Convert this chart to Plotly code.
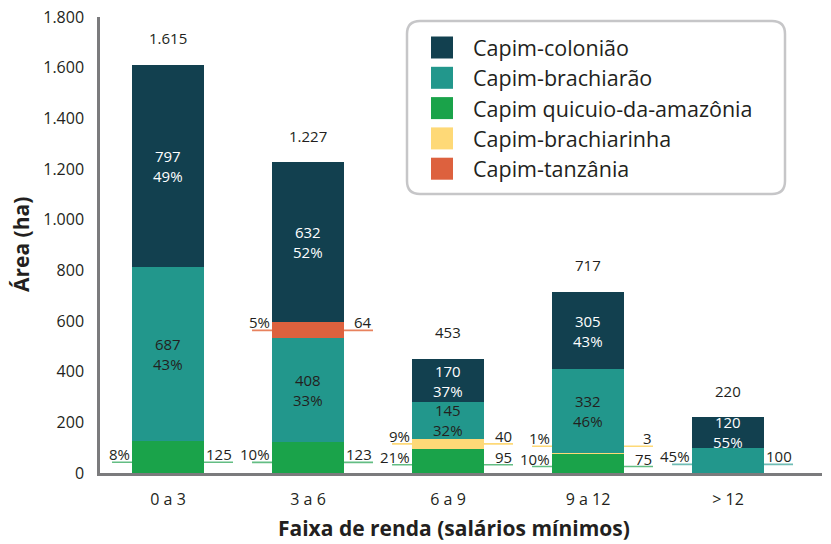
import plotly.graph_objects as go

# ---- data ----
categories = ["0 a 3", "3 a 6", "6 a 9", "9 a 12", "> 12"]
totals = [1615, 1227, 453, 717, 220]

species = ["Capim quicuio-da-amazônia", "Capim-brachiarinha", "Capim-brachiarão",
           "Capim-tanzânia", "Capim-colonião"]
quicuio = [125, 123, 95, 75, 0]
brachiarinha = [0, 0, 40, 3, 0]
brachiarao = [687, 408, 145, 332, 100]
tanzania = [0, 64, 0, 0, 0]
coloniao = [797, 632, 170, 305, 120]

quicuio_pct = [8, 10, 21, 10, None]
brachiarinha_pct = [None, None, 9, 1, None]
brachiarao_pct = [43, 33, 32, 46, 45]
tanzania_pct = [None, 5, None, None, None]
coloniao_pct = [49, 52, 37, 43, 55]

legend_order = ["Capim-colonião", "Capim-brachiarão", "Capim quicuio-da-amazônia",
                "Capim-brachiarinha", "Capim-tanzânia"]

# ---- styling ----
FONT = "Open Sans"
TXT = "#231f20"
colors = {
    "Capim-colonião": "#12404f",
    "Capim-brachiarão": "#22978c",
    "Capim quicuio-da-amazônia": "#1aa34a",
    "Capim-brachiarinha": "#fed977",
    "Capim-tanzânia": "#dd613e",
}
leader_colors = {
    "Capim-colonião": "#5a7d88",
    "Capim-brachiarão": "#6fbcb4",
    "Capim quicuio-da-amazônia": "#63bd83",
    "Capim-brachiarinha": "#fed977",
    "Capim-tanzânia": "#e8825e",
}
inside_text_color = {
    "Capim-colonião": "white",
    "Capim-brachiarão": TXT,
}

series = {
    "Capim quicuio-da-amazônia": (quicuio, quicuio_pct),
    "Capim-brachiarinha": (brachiarinha, brachiarinha_pct),
    "Capim-brachiarão": (brachiarao, brachiarao_pct),
    "Capim-tanzânia": (tanzania, tanzania_pct),
    "Capim-colonião": (coloniao, coloniao_pct),
}

W, H = 831, 544
PL, PR, PT, PB = 100, 822, 17, 473   # plot area in pixels
BAR_W = 0.514
X_RANGE = [-0.486, 4.671]
LBL = 15


def px_x(p):
    return (p - PL) / (PR - PL)


def px_y(p):
    return (PB - p) / (PB - PT)


fig = go.Figure()
for name in species:
    vals, _ = series[name]
    fig.add_trace(go.Bar(
        x=categories, y=vals, name=name, width=BAR_W,
        marker=dict(color=colors[name], line=dict(width=0)),
        hoverinfo="skip", showlegend=False,
    ))

annotations = []
shapes = []

for i, cat in enumerate(categories):
    base = 0.0
    prev_leader = None
    first = True
    for name in species:
        vals, pcts = series[name]
        v = vals[i]
        if not v:
            continue
        mid = base + v / 2
        use_leader = first or v < 70
        if use_leader:
            if first:
                ly = base + 0.34 * v
            else:
                ly = max(mid, prev_leader + 80)
            prev_leader = ly
            shapes.append(dict(
                type="line", xref="x", yref="y", layer="below",
                x0=i - 0.4, x1=i + 0.464, y0=ly, y1=ly,
                line=dict(color=leader_colors[name], width=1.6),
            ))
            annotations.append(dict(
                x=i - BAR_W / 2, y=ly, xref="x", yref="y",
                text=f"{pcts[i]}%", showarrow=False, borderpad=0,
                xanchor="right", yanchor="bottom", xshift=-1, yshift=-3,
                font=dict(family=FONT, size=LBL, color=TXT),
            ))
            annotations.append(dict(
                x=i + 0.464, y=ly, xref="x", yref="y",
                text=f"{v}", showarrow=False, borderpad=0,
                xanchor="right", yanchor="bottom", xshift=0, yshift=-3,
                font=dict(family=FONT, size=LBL, color=TXT),
            ))
        else:
            tc = inside_text_color.get(name, TXT)
            annotations.append(dict(
                x=i, y=mid, xref="x", yref="y",
                text=f"{v}<br>{pcts[i]}%", showarrow=False, borderpad=0,
                yanchor="middle",
                font=dict(family=FONT, size=LBL, color=tc),
            ))
        base += v
        first = False
    # total above the stack
    annotations.append(dict(
        x=i, y=totals[i], xref="x", yref="y",
        text=f"{totals[i]:,}".replace(",", "."), showarrow=False,
        yanchor="middle", yshift=26,
        font=dict(family=FONT, size=LBL, color=TXT),
    ))

# ---- axis titles ----
annotations.append(dict(
    x=px_x(454), y=px_y(543), xref="paper", yref="paper",
    text="<b>Faixa de renda (salários mínimos)</b>", showarrow=False,
    xanchor="center", yanchor="bottom", borderpad=0,
    font=dict(family=FONT, size=21, color=TXT),
))
annotations.append(dict(
    x=px_x(21), y=px_y(245), xref="paper", yref="paper",
    text="<b>Área (ha)</b>", showarrow=False, textangle=-90,
    xanchor="center", yanchor="middle",
    font=dict(family=FONT, size=21, color=TXT),
))

# ---- legend box (drawn by hand for the rounded frame) ----
LX0, LX1, LY0, LY1, R = 407, 785, 21, 194, 13
x0, x1 = px_x(LX0), px_x(LX1)
y0, y1 = px_y(LY1), px_y(LY0)
rx = R / (PR - PL)
ry = R / (PB - PT)
path = (f"M {x0 + rx},{y1} L {x1 - rx},{y1} Q {x1},{y1} {x1},{y1 - ry} "
        f"L {x1},{y0 + ry} Q {x1},{y0} {x1 - rx},{y0} "
        f"L {x0 + rx},{y0} Q {x0},{y0} {x0},{y0 + ry} "
        f"L {x0},{y1 - ry} Q {x0},{y1} {x0 + rx},{y1} Z")
shapes.append(dict(type="path", xref="paper", yref="paper", path=path,
                   fillcolor="white", line=dict(color="#c6c6c8", width=2.5)))

ROW0, ROW_STEP, SW = 47.5, 30.3, 22
for k, name in enumerate(legend_order):
    cy = ROW0 + k * ROW_STEP
    shapes.append(dict(
        type="rect", xref="paper", yref="paper",
        x0=px_x(431), x1=px_x(431 + SW), y0=px_y(cy + SW / 2), y1=px_y(cy - SW / 2),
        fillcolor=colors[name], line=dict(width=0),
    ))
    annotations.append(dict(
        x=px_x(472), y=px_y(cy), xref="paper", yref="paper", text=name,
        showarrow=False, xanchor="left", yanchor="middle", borderpad=0,
        font=dict(family=FONT, size=21.5, color=TXT),
    ))

fig.update_layout(
    width=W, height=H,
    margin=dict(l=PL, r=W - PR, t=PT, b=H - PB, pad=0, autoexpand=False),
    barmode="stack",
    plot_bgcolor="white", paper_bgcolor="white",
    separators=",.",
    font=dict(family=FONT, color=TXT),
    annotations=annotations, shapes=shapes,
    xaxis=dict(
        range=X_RANGE, showgrid=False, zeroline=False, automargin=False,
        showline=True, linecolor="#7b7b7d", linewidth=2.5,
        ticks="", tickfont=dict(family=FONT, size=16, color=TXT),
        ticklabelstandoff=10,
    ),
    yaxis=dict(
        range=[0, 1800], tickvals=list(range(0, 1801, 200)),
        showgrid=False, zeroline=False, automargin=False,
        showline=True, linecolor="#7b7b7d", linewidth=2.5,
        ticks="", tickfont=dict(family=FONT, size=16, color=TXT),
        tickformat=",d", ticklabelstandoff=10,
    ),
)

fig.write_html("out.html")
